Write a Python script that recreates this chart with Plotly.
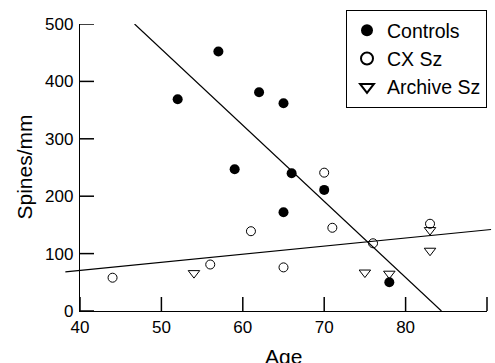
import plotly.graph_objects as go

# Data
controls_age = [52, 57, 59, 62, 65, 66, 65, 70, 78]
controls_spines = [369, 452, 247, 381, 362, 240, 172, 211, 50]

cx_age = [44, 56, 61, 65, 70, 71, 76, 83]
cx_spines = [58, 81, 139, 76, 241, 145, 118, 152]

archive_age = [54, 75, 78, 83, 83]
archive_spines = [66, 67, 65, 141, 105]

# Regression lines (end points)
fit_controls_x = [46.7, 84.4]
fit_controls_y = [500, 0]
fit_cx_x = [38.2, 90.5]
fit_cx_y = [68, 142]

x_ticks = [40, 50, 60, 70, 80, 90]
y_ticks = [0, 100, 200, 300, 400, 500]

FONT = "Liberation Sans, Arial, Helvetica, sans-serif"

W, H = 495, 363
ml, mr, mt, mb = 63, 2, 24, 52
pw, ph = W - ml - mr, H - mt - mb
ax_left_px, ax_right_px = 80, 487          # pixel positions of x=40 and x=90
px_per_unit = (ax_right_px - ax_left_px) / (x_ticks[-1] - x_ticks[0])
x_dom = [(ax_left_px - ml) / pw, (ax_right_px - ml) / pw]
x2_range = [x_ticks[0] - (ax_left_px - ml) / px_per_unit,
            x_ticks[-1] + (W - mr - ax_right_px) / px_per_unit]
TICK_LEN = 14

fig = go.Figure()

# fitted lines on a wider hidden axis so they may run past the axis ends
fig.add_trace(go.Scatter(x=fit_controls_x, y=fit_controls_y, mode="lines", xaxis="x2",
                         line=dict(color="black", width=1.2), showlegend=False, hoverinfo="skip"))
fig.add_trace(go.Scatter(x=fit_cx_x, y=fit_cx_y, mode="lines", xaxis="x2",
                         line=dict(color="black", width=1.2), showlegend=False, hoverinfo="skip"))

fig.add_trace(go.Scatter(x=controls_age, y=controls_spines, mode="markers", name="Controls",
                         marker=dict(symbol="circle", size=10, color="black",
                                     line=dict(color="black", width=0)),
                         cliponaxis=False))
fig.add_trace(go.Scatter(x=cx_age, y=cx_spines, mode="markers", name="CX Sz",
                         marker=dict(symbol="circle-open", size=9, color="black",
                                     line=dict(color="black", width=1)),
                         cliponaxis=False))
fig.add_trace(go.Scatter(x=archive_age, y=archive_spines, mode="markers", name="Archive Sz",
                         marker=dict(symbol="triangle-down-open", size=10, color="black",
                                     line=dict(color="black", width=1)),
                         cliponaxis=False))

# inward tick marks
for xv in x_ticks:
    fig.add_shape(type="line", xref="x2", yref="paper", x0=xv, x1=xv, y0=0, y1=TICK_LEN / ph,
                  line=dict(color="black", width=1.5), layer="above")
for yv in y_ticks:
    fig.add_shape(type="line", xref="paper", yref="y", x0=x_dom[0], x1=x_dom[0] + TICK_LEN / pw,
                  y0=yv, y1=yv, line=dict(color="black", width=1.5), layer="above")

fig.update_layout(
    width=W, height=H,
    margin=dict(l=ml, r=mr, t=mt, b=mb, autoexpand=False),
    paper_bgcolor="white", plot_bgcolor="rgba(0,0,0,0)",
    font=dict(family=FONT, color="black", size=17),
    xaxis=dict(range=[x_ticks[0], x_ticks[-1]], domain=x_dom, tickvals=x_ticks,
               ticks="", showline=True, linecolor="black", linewidth=1.3,
               showgrid=False, zeroline=False, tickfont=dict(size=17), automargin=False),
    xaxis2=dict(range=x2_range, domain=[0, 1], anchor="y", visible=False,
                showgrid=False, zeroline=False),
    yaxis=dict(range=[0, 500], tickvals=y_ticks, ticks="",
               showline=True, linecolor="black", linewidth=1.3,
               showgrid=False, zeroline=False, anchor="x",
               tickfont=dict(size=17), ticklabelstandoff=2, automargin=False),
    legend=dict(x=(487 - ml) / pw, xanchor="right",
                y=(H - mb - 10) / ph, yanchor="top",
                bordercolor="black", borderwidth=1, bgcolor="white",
                font=dict(size=19.5, family=FONT), tracegroupgap=0, itemsizing="constant"),
    showlegend=True,
    annotations=[
        dict(text="Age", xref="x", yref="paper", x=65, y=-0.11, yanchor="top",
             showarrow=False, font=dict(size=21)),
        dict(text="Spines/mm", xref="paper", yref="y", x=(24 - ml) / pw, y=250, textangle=-90,
             showarrow=False, xanchor="center", font=dict(size=21)),
    ],
)

fig.write_html("out.html", post_script="document.body.style.margin='0';",
               config={"displayModeBar": False})
